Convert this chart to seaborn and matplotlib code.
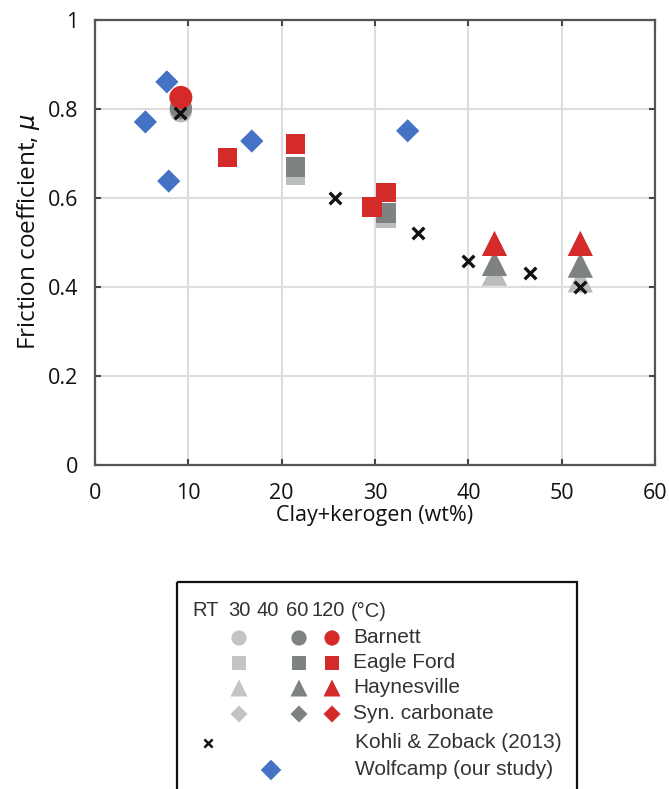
import matplotlib
matplotlib.use("Agg")
import matplotlib.pyplot as plt
import seaborn as sns
from matplotlib.patches import Rectangle

# ---------------- data ----------------
barnett_x = [9.2]
barnett_rt_y = [0.795]
barnett_60_y = [0.802]
barnett_120_y = [0.826]

eagle_x_120 = [14.2, 21.5, 31.2, 29.7]
eagle_y_120 = [0.691, 0.721, 0.612, 0.580]
eagle_x_60 = [21.5, 31.2]
eagle_y_60 = [0.670, 0.567]
eagle_x_rt = [21.5, 31.2]
eagle_y_rt = [0.652, 0.555]

hay_x = [42.8, 52.0]
hay_y_120 = [0.498, 0.498]
hay_y_60 = [0.453, 0.449]
hay_y_rt = [0.431, 0.416]

kohli_x = [9.1, 25.7, 34.6, 40.0, 46.6, 52.0]
kohli_y = [0.790, 0.599, 0.521, 0.459, 0.431, 0.401]

wolf_x = [5.4, 7.7, 7.9, 16.8, 33.5]
wolf_y = [0.771, 0.861, 0.638, 0.728, 0.751]

x_ticks = [0, 10, 20, 30, 40, 50, 60]
y_ticks = [0, 0.2, 0.4, 0.6, 0.8, 1.0]
y_tick_labels = ["0", "0.2", "0.4", "0.6", "0.8", "1"]

legend_temps = ["RT", "30", "40", "60", "120"]
legend_rows = ["Barnett", "Eagle Ford", "Haynesville", "Syn. carbonate"]
legend_extra = ["Kohli & Zoback (2013)", "Wolfcamp (our study)"]

# ---------------- style ----------------
LIGHT = "#b9bdbb"
DARK = "#7e8381"
RED = "#d42a2a"
BLUE = "#4472c4"

sns.set_theme(style="white")
plt.rcParams["font.family"] = ["Open Sans", "DejaVu Sans"]

fig = plt.figure(figsize=(6.69, 7.89), dpi=100)
ax = fig.add_axes([95 / 669, 1 - 465 / 789, 560 / 669, 445 / 789])

common = dict(ax=ax, edgecolor="none", linewidth=0, legend=False)
# RT (light gray)
sns.scatterplot(x=barnett_x, y=barnett_rt_y, marker="o", s=260, color=LIGHT, zorder=3, **common)
sns.scatterplot(x=eagle_x_rt, y=eagle_y_rt, marker="s", s=200, color=LIGHT, zorder=3, **common)
sns.scatterplot(x=hay_x, y=hay_y_rt, marker="^", s=330, color=LIGHT, zorder=3, **common)
# 60 C (dark gray)
sns.scatterplot(x=barnett_x, y=barnett_60_y, marker="o", s=260, color=DARK, zorder=4, **common)
sns.scatterplot(x=eagle_x_60, y=eagle_y_60, marker="s", s=200, color=DARK, zorder=4, **common)
sns.scatterplot(x=hay_x, y=hay_y_60, marker="^", s=330, color=DARK, zorder=4, **common)
# 120 C (red)
sns.scatterplot(x=barnett_x, y=barnett_120_y, marker="o", s=275, color=RED, zorder=5, **common)
sns.scatterplot(x=eagle_x_120, y=eagle_y_120, marker="s", s=200, color=RED, zorder=5, **common)
sns.scatterplot(x=hay_x, y=hay_y_120, marker="^", s=330, color=RED, zorder=5, **common)
# Kohli & Zoback
sns.scatterplot(x=kohli_x, y=kohli_y, marker="x", s=70, color="#111111", linewidth=2.4,
                zorder=6, ax=ax, legend=False)
# Wolfcamp
sns.scatterplot(x=wolf_x, y=wolf_y, marker="D", s=140, color=BLUE, zorder=7, **common)

ax.set_xlim(0, 60)
ax.set_ylim(0, 1)
ax.set_xticks(x_ticks)
ax.set_xticklabels([str(t) for t in x_ticks])
ax.set_yticks(y_ticks)
ax.set_yticklabels(y_tick_labels)
ax.grid(True, color="#dddddd", linewidth=1.5, zorder=0)
ax.set_axisbelow(True)
for sp in ax.spines.values():
    sp.set_color("#555555")
    sp.set_linewidth(1.6)
ax.tick_params(direction="in", length=4, width=1.5, color="#444444",
               top=True, right=True, bottom=True, left=True,
               labelsize=15.5, labelcolor="#111111", pad=12)
ax.tick_params(axis="x", pad=13)
ax.set_xlabel("Clay+kerogen (wt%)", fontsize=15.5, color="#111111", labelpad=1)
ax.set_ylabel("Friction coefficient, $\\mu$", fontsize=17.5, color="#111111")
ax.yaxis.set_label_coords(-0.095, 0.524)

# ---------------- legend panel ----------------
lax = fig.add_axes([0, 0, 1, 229 / 789])
lax.set_xlim(0, 669)
lax.set_ylim(789, 560)
lax.axis("off")
lax.add_patch(Rectangle((177, 582), 400, 230, fill=False, edgecolor="#111111",
                        linewidth=1.6, clip_on=False))

lfont = ["Liberation Sans", "DejaVu Sans"]
TXT = "#333333"
col_x = [206, 239, 268, 297, 328]
for t, cx in zip(legend_temps, col_x):
    lax.text(cx, 611, t, ha="center", va="center", fontsize=14.5, color=TXT, family=lfont)
lax.text(351, 611, "(°C)", ha="left", va="center", fontsize=14.5, color=TXT, family=lfont)

row_y = [638, 663, 688, 714]
row_markers = ["o", "s", "^", "D"]
row_sizes = [120, 95, 150, 75]
for name, yy, mk, sz in zip(legend_rows, row_y, row_markers, row_sizes):
    lax.scatter([239], [yy], marker=mk, s=sz, color="#c3c5c4", edgecolors="none")
    lax.scatter([299], [yy], marker=mk, s=sz, color=DARK, edgecolors="none")
    lax.scatter([332], [yy], marker=mk, s=sz, color=RED, edgecolors="none")
    lax.text(353, yy, name, ha="left", va="center", fontsize=15, color=TXT, family=lfont)

lax.scatter([208], [743], marker="x", s=35, color="#111111", linewidths=1.8)
lax.text(355, 743, legend_extra[0], ha="left", va="center", fontsize=15, color=TXT, family=lfont)
lax.scatter([271], [770], marker="D", s=110, color=BLUE, edgecolors="none")
lax.text(355, 770, legend_extra[1], ha="left", va="center", fontsize=15, color=TXT, family=lfont)

fig.savefig("out.png", dpi=100)
